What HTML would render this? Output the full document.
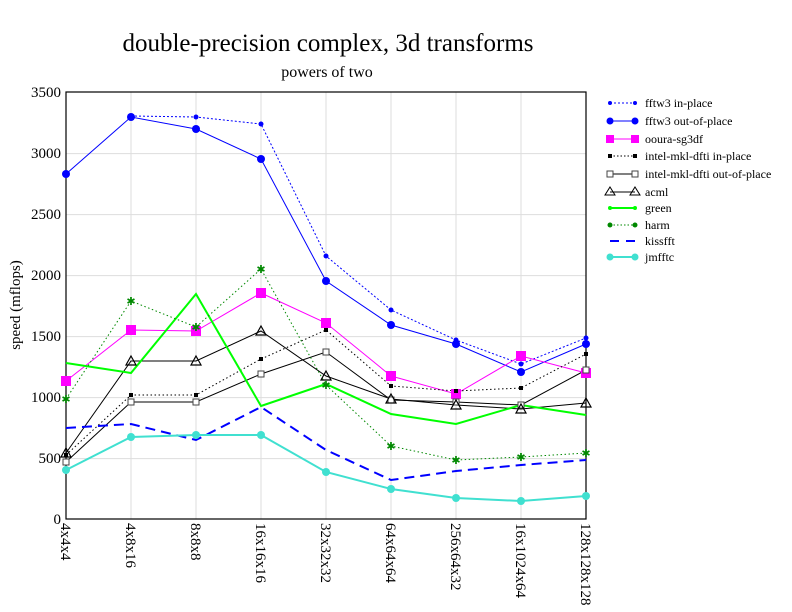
<!DOCTYPE html>
<html><head><style>body{margin:0;background:#fff}svg{display:block}</style></head><body>
<svg width="792" height="612" xmlns="http://www.w3.org/2000/svg" font-family="Liberation Serif, serif">
<rect width="792" height="612" fill="#fff"/>
<text x="328" y="51" font-size="25" text-anchor="middle">double-precision complex, 3d transforms</text>
<text x="327" y="77" font-size="16" text-anchor="middle">powers of two</text>
<g stroke="#ddd" stroke-width="1">
<line x1="66" y1="153.6" x2="586" y2="153.6"/><line x1="66" y1="214.6" x2="586" y2="214.6"/><line x1="66" y1="275.6" x2="586" y2="275.6"/><line x1="66" y1="336.6" x2="586" y2="336.6"/><line x1="66" y1="397.6" x2="586" y2="397.6"/><line x1="66" y1="458.6" x2="586" y2="458.6"/>
<line x1="131" y1="92" x2="131" y2="519"/><line x1="196" y1="92" x2="196" y2="519"/><line x1="261" y1="92" x2="261" y2="519"/><line x1="326" y1="92" x2="326" y2="519"/><line x1="391" y1="92" x2="391" y2="519"/><line x1="456" y1="92" x2="456" y2="519"/><line x1="521" y1="92" x2="521" y2="519"/>
</g>
<rect x="66" y="92" width="520" height="427" fill="none" stroke="#000" stroke-width="1.2"/>
<g font-size="15" text-anchor="end">
<text x="61" y="524">0</text><text x="61" y="463">500</text><text x="61" y="402">1000</text><text x="61" y="341">1500</text><text x="61" y="280">2000</text><text x="61" y="219">2500</text><text x="61" y="158">3000</text><text x="61" y="97">3500</text>
</g>
<text transform="translate(20,305) rotate(-90)" font-size="15" text-anchor="middle">speed (mflops)</text>
<g font-size="15">
<text transform="translate(61,523) rotate(90)">4x4x4</text>
<text transform="translate(126,523) rotate(90)">4x8x16</text>
<text transform="translate(191,523) rotate(90)">8x8x8</text>
<text transform="translate(256,523) rotate(90)">16x16x16</text>
<text transform="translate(321,523) rotate(90)">32x32x32</text>
<text transform="translate(386,523) rotate(90)">64x64x64</text>
<text transform="translate(451,523) rotate(90)">256x64x32</text>
<text transform="translate(516,523) rotate(90)">16x1024x64</text>
<text transform="translate(581,523) rotate(90)">128x128x128</text>
</g>
<g fill="none">
<polyline stroke="#00f" stroke-dasharray="2,2" points="131,116 196,117 261,124 326,256 391,310 456,340 521,364 586,338"/>
<polyline stroke="#00f" points="66,174 131,117 196,129 261,159 326,281 391,325 456,344 521,372 586,344"/>
<polyline stroke="#f0f" points="66,381 131,330 196,331 261,293 326,323 391,376 456,394 521,356 586,373"/>
<polyline stroke="#000" stroke-dasharray="1.5,2.5" points="66,455 131,395 196,395 261,359 326,330 391,386 456,391 521,388 586,354"/>
<polyline stroke="#000" points="66,462 131,402 196,402 261,374 326,352 391,400 456,402 521,405 586,370"/>
<polyline stroke="#000" points="66,453 131,361 196,361 261,331 326,376 391,399 456,405 521,409 586,403"/>
<polyline stroke="#0f0" stroke-width="2" points="66,363 131,373 196,294 261,406 326,384 391,414 456,424 521,405 586,415"/>
<polyline stroke="#080" stroke-dasharray="1.5,2.5" points="66,399 131,301 196,327 261,269 326,385 391,446 456,460 521,457 586,453"/>
<polyline stroke="#00f" stroke-width="2" stroke-dasharray="10,6" points="66,428 131,424 196,440 261,407 326,450 391,480 456,471 521,465 586,460"/>
<polyline stroke="#40e0d0" stroke-width="2" points="66,470 131,437 196,435 261,435 326,472 391,489 456,498 521,501 586,496"/>
</g>
<g fill="#00f">
<circle cx="131" cy="116" r="2.5"/><circle cx="196" cy="117" r="2.5"/><circle cx="261" cy="124" r="2.5"/><circle cx="326" cy="256" r="2.5"/><circle cx="391" cy="310" r="2.5"/><circle cx="456" cy="340" r="2.5"/><circle cx="521" cy="364" r="2.5"/><circle cx="586" cy="338" r="2.5"/>
<circle cx="66" cy="174" r="4"/><circle cx="131" cy="117" r="4"/><circle cx="196" cy="129" r="4"/><circle cx="261" cy="159" r="4"/><circle cx="326" cy="281" r="4"/><circle cx="391" cy="325" r="4"/><circle cx="456" cy="344" r="4"/><circle cx="521" cy="372" r="4"/><circle cx="586" cy="344" r="4"/>
</g>
<g fill="#f0f">
<rect x="61" y="376" width="10" height="10"/><rect x="126" y="325" width="10" height="10"/><rect x="191" y="326" width="10" height="10"/><rect x="256" y="288" width="10" height="10"/><rect x="321" y="318" width="10" height="10"/><rect x="386" y="371" width="10" height="10"/><rect x="451" y="389" width="10" height="10"/><rect x="516" y="351" width="10" height="10"/><rect x="581" y="368" width="10" height="10"/>
</g>
<g fill="#000">
<rect x="64" y="453" width="4" height="4"/><rect x="129" y="393" width="4" height="4"/><rect x="194" y="393" width="4" height="4"/><rect x="259" y="357" width="4" height="4"/><rect x="324" y="328" width="4" height="4"/><rect x="389" y="384" width="4" height="4"/><rect x="454" y="389" width="4" height="4"/><rect x="519" y="386" width="4" height="4"/><rect x="584" y="352" width="4" height="4"/>
</g>
<g fill="#fff" stroke="#444">
<rect x="63" y="459" width="6" height="6"/><rect x="128" y="399" width="6" height="6"/><rect x="193" y="399" width="6" height="6"/><rect x="258" y="371" width="6" height="6"/><rect x="323" y="349" width="6" height="6"/><rect x="388" y="397" width="6" height="6"/><rect x="453" y="399" width="6" height="6"/><rect x="518" y="402" width="6" height="6"/><rect x="583" y="367" width="6" height="6"/>
</g>
<g fill="none" stroke="#000" stroke-width="1.2">
<polygon points="66,448 71,457 61,457"/><polygon points="131,356 136,365 126,365"/><polygon points="196,356 201,365 191,365"/><polygon points="261,326 266,335 256,335"/><polygon points="326,371 331,380 321,380"/><polygon points="391,394 396,403 386,403"/><polygon points="456,400 461,409 451,409"/><polygon points="521,404 526,413 516,413"/><polygon points="586,398 591,407 581,407"/>
</g>
<g fill="#080" font-size="11" text-anchor="middle">
<text x="66" y="403">✱</text><text x="131" y="305">✱</text><text x="196" y="331">✱</text><text x="261" y="273">✱</text><text x="326" y="389">✱</text><text x="391" y="450">✱</text><text x="456" y="464">✱</text><text x="521" y="461">✱</text><text x="586" y="457">✱</text>
</g>
<g fill="#40e0d0">
<circle cx="66" cy="470" r="4"/><circle cx="131" cy="437" r="4"/><circle cx="196" cy="435" r="4"/><circle cx="261" cy="435" r="4"/><circle cx="326" cy="472" r="4"/><circle cx="391" cy="489" r="4"/><circle cx="456" cy="498" r="4"/><circle cx="521" cy="501" r="4"/><circle cx="586" cy="496" r="4"/>
</g>
<g font-size="12">
<line x1="610" y1="103" x2="635" y2="103" stroke="#00f" stroke-dasharray="2,2"/><circle cx="635" cy="103" r="2" fill="#00f"/><circle cx="610" cy="103" r="2" fill="#00f"/>
<text x="645" y="107">fftw3 in-place</text>
<line x1="610" y1="121" x2="635" y2="121" stroke="#00f"/><circle cx="610" cy="121" r="3.5" fill="#00f"/><circle cx="635" cy="121" r="3.5" fill="#00f"/>
<text x="645" y="125">fftw3 out-of-place</text>
<line x1="610" y1="139" x2="635" y2="139" stroke="#f0f"/><rect x="606" y="135" width="8" height="8" fill="#f0f"/><rect x="631" y="135" width="8" height="8" fill="#f0f"/>
<text x="645" y="143">ooura-sg3df</text>
<line x1="610" y1="156" x2="635" y2="156" stroke="#000" stroke-dasharray="1.5,2"/><rect x="608" y="154" width="4" height="4"/><rect x="633" y="154" width="4" height="4"/>
<text x="645" y="160">intel-mkl-dfti in-place</text>
<line x1="610" y1="174" x2="635" y2="174" stroke="#000"/><rect x="607" y="171" width="6" height="6" fill="#fff" stroke="#444"/><rect x="632" y="171" width="6" height="6" fill="#fff" stroke="#444"/>
<text x="645" y="178">intel-mkl-dfti out-of-place</text>
<line x1="610" y1="192" x2="635" y2="192" stroke="#000"/><polygon points="610,187 615,195 605,195" fill="none" stroke="#000"/><polygon points="635,187 640,195 630,195" fill="none" stroke="#000"/>
<text x="645" y="196">acml</text>
<line x1="610" y1="208" x2="635" y2="208" stroke="#0f0" stroke-width="2"/><circle cx="610" cy="208" r="2" fill="#0f0"/><circle cx="635" cy="208" r="2" fill="#0f0"/>
<text x="645" y="212">green</text>
<line x1="610" y1="225" x2="635" y2="225" stroke="#080" stroke-dasharray="1.5,2"/><circle cx="610" cy="225" r="2.5" fill="#080"/><circle cx="635" cy="225" r="2.5" fill="#080"/>
<text x="645" y="229">harm</text>
<line x1="610" y1="241" x2="635" y2="241" stroke="#00f" stroke-width="2" stroke-dasharray="9,7"/>
<text x="645" y="245">kissfft</text>
<line x1="610" y1="257" x2="635" y2="257" stroke="#40e0d0" stroke-width="2"/><circle cx="610" cy="257" r="3.5" fill="#40e0d0"/><circle cx="635" cy="257" r="3.5" fill="#40e0d0"/>
<text x="645" y="261">jmfftc</text>
</g>
</svg>
</body></html>
